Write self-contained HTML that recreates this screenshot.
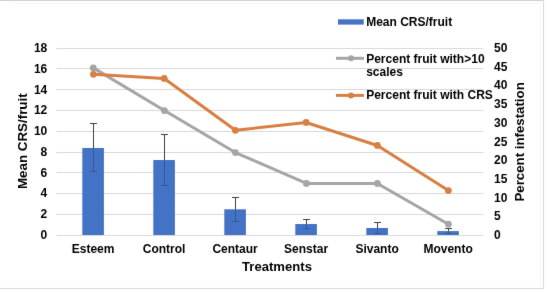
<!DOCTYPE html>
<html><head><meta charset="utf-8"><style>
html,body{margin:0;padding:0;background:#fff;width:548px;height:292px;overflow:hidden}
svg{display:block}
</style></head><body>
<svg width="548" height="292" viewBox="0 0 548 292">
<defs><filter id="b" x="0" y="0" width="548" height="292" filterUnits="userSpaceOnUse" color-interpolation-filters="sRGB"><feConvolveMatrix order="3" kernelMatrix="0.01 0.05 0.01 0.05 0.76 0.05 0.01 0.05 0.01" edgeMode="duplicate" preserveAlpha="false"/></filter></defs>
<g filter="url(#b)">
<rect width="548" height="292" fill="#fff"/>
<rect x="56.3" y="48" width="427.2" height="1" fill="#d9d9d9"/>
<rect x="56.3" y="68" width="427.2" height="1" fill="#d9d9d9"/>
<rect x="56.3" y="89" width="427.2" height="1" fill="#d9d9d9"/>
<rect x="56.3" y="110" width="427.2" height="1" fill="#d9d9d9"/>
<rect x="56.3" y="131" width="427.2" height="1" fill="#d9d9d9"/>
<rect x="56.3" y="152" width="427.2" height="1" fill="#d9d9d9"/>
<rect x="56.3" y="172" width="427.2" height="1" fill="#d9d9d9"/>
<rect x="56.3" y="193" width="427.2" height="1" fill="#d9d9d9"/>
<rect x="56.3" y="214" width="427.2" height="1" fill="#d9d9d9"/>
<rect x="56.3" y="235" width="427.2" height="1" fill="#d9d9d9"/>
<rect x="82.30" y="147.98" width="21.6" height="87.02" fill="#4472c4"/>
<rect x="153.30" y="160.03" width="21.6" height="74.97" fill="#4472c4"/>
<rect x="224.30" y="209.28" width="21.6" height="25.72" fill="#4472c4"/>
<rect x="295.30" y="224.03" width="21.6" height="10.97" fill="#4472c4"/>
<rect x="366.30" y="227.98" width="21.6" height="7.02" fill="#4472c4"/>
<rect x="437.30" y="231.09" width="21.6" height="3.91" fill="#4472c4"/>
<path d="M93.50 123.50V147.98M90.00 123.50H97.00" stroke="#404040" stroke-width="1" fill="none"/>
<path d="M93.50 147.98V171.50M90.00 171.50H97.00" stroke="#000" stroke-opacity="0.22" stroke-width="1" fill="none"/>
<path d="M164.50 134.50V160.03M161.00 134.50H168.00" stroke="#404040" stroke-width="1" fill="none"/>
<path d="M164.50 160.03V185.50M161.00 185.50H168.00" stroke="#000" stroke-opacity="0.22" stroke-width="1" fill="none"/>
<path d="M235.50 197.50V209.28M232.00 197.50H239.00" stroke="#404040" stroke-width="1" fill="none"/>
<path d="M235.50 209.28V221.50M232.00 221.50H239.00" stroke="#000" stroke-opacity="0.22" stroke-width="1" fill="none"/>
<path d="M306.50 219.50V224.03M303.00 219.50H310.00" stroke="#404040" stroke-width="1" fill="none"/>
<path d="M306.50 224.03V228.50M303.00 228.50H310.00" stroke="#000" stroke-opacity="0.22" stroke-width="1" fill="none"/>
<path d="M377.50 222.50V227.98M374.00 222.50H381.00" stroke="#404040" stroke-width="1" fill="none"/>
<path d="M377.50 227.98V233.50M374.00 233.50H381.00" stroke="#000" stroke-opacity="0.22" stroke-width="1" fill="none"/>
<path d="M448.50 228.50V231.09M445.00 228.50H452.00" stroke="#404040" stroke-width="1" fill="none"/>
<path d="M448.50 231.09V233.50M445.00 233.50H452.00" stroke="#000" stroke-opacity="0.22" stroke-width="1" fill="none"/>
<polyline points="93.25,67.90 164.40,110.55 235.40,152.55 306.40,183.45 377.40,183.45 448.40,224.20" fill="none" stroke="#a5a5a5" stroke-width="3" stroke-linejoin="round"/><circle cx="93.25" cy="67.90" r="3.4" fill="#a5a5a5"/><circle cx="164.40" cy="110.55" r="3.4" fill="#a5a5a5"/><circle cx="235.40" cy="152.55" r="3.4" fill="#a5a5a5"/><circle cx="306.40" cy="183.45" r="3.4" fill="#a5a5a5"/><circle cx="377.40" cy="183.45" r="3.4" fill="#a5a5a5"/><circle cx="448.40" cy="224.20" r="3.4" fill="#a5a5a5"/>
<polyline points="93.40,74.30 164.20,78.45 235.40,130.30 306.10,122.45 377.40,145.45 448.40,190.55" fill="none" stroke="#d87f42" stroke-width="3" stroke-linejoin="round"/><circle cx="93.40" cy="74.30" r="3.4" fill="#d87f42"/><circle cx="164.20" cy="78.45" r="3.4" fill="#d87f42"/><circle cx="235.40" cy="130.30" r="3.4" fill="#d87f42"/><circle cx="306.10" cy="122.45" r="3.4" fill="#d87f42"/><circle cx="377.40" cy="145.45" r="3.4" fill="#d87f42"/><circle cx="448.40" cy="190.55" r="3.4" fill="#d87f42"/>
<text x="47.3" y="238.95" text-anchor="end" font-size="12" font-family="Liberation Sans" font-weight="bold">0</text>
<text x="47.3" y="218.17" text-anchor="end" font-size="12" font-family="Liberation Sans" font-weight="bold">2</text>
<text x="47.3" y="197.39" text-anchor="end" font-size="12" font-family="Liberation Sans" font-weight="bold">4</text>
<text x="47.3" y="176.62" text-anchor="end" font-size="12" font-family="Liberation Sans" font-weight="bold">6</text>
<text x="47.3" y="155.84" text-anchor="end" font-size="12" font-family="Liberation Sans" font-weight="bold">8</text>
<text x="47.3" y="135.06" text-anchor="end" font-size="12" font-family="Liberation Sans" font-weight="bold">10</text>
<text x="47.3" y="114.28" text-anchor="end" font-size="12" font-family="Liberation Sans" font-weight="bold">12</text>
<text x="47.3" y="93.51" text-anchor="end" font-size="12" font-family="Liberation Sans" font-weight="bold">14</text>
<text x="47.3" y="72.73" text-anchor="end" font-size="12" font-family="Liberation Sans" font-weight="bold">16</text>
<text x="47.3" y="51.95" text-anchor="end" font-size="12" font-family="Liberation Sans" font-weight="bold">18</text>
<text x="494.1" y="239.05" font-size="12" font-family="Liberation Sans" font-weight="bold">0</text>
<text x="494.1" y="220.35" font-size="12" font-family="Liberation Sans" font-weight="bold">5</text>
<text x="494.1" y="201.65" font-size="12" font-family="Liberation Sans" font-weight="bold">10</text>
<text x="494.1" y="182.95" font-size="12" font-family="Liberation Sans" font-weight="bold">15</text>
<text x="494.1" y="164.25" font-size="12" font-family="Liberation Sans" font-weight="bold">20</text>
<text x="494.1" y="145.55" font-size="12" font-family="Liberation Sans" font-weight="bold">25</text>
<text x="494.1" y="126.85" font-size="12" font-family="Liberation Sans" font-weight="bold">30</text>
<text x="494.1" y="108.15" font-size="12" font-family="Liberation Sans" font-weight="bold">35</text>
<text x="494.1" y="89.45" font-size="12" font-family="Liberation Sans" font-weight="bold">40</text>
<text x="494.1" y="70.75" font-size="12" font-family="Liberation Sans" font-weight="bold">45</text>
<text x="494.1" y="52.05" font-size="12" font-family="Liberation Sans" font-weight="bold">50</text>
<text x="93.10" y="252.75" text-anchor="middle" font-size="12" font-family="Liberation Sans" font-weight="bold">Esteem</text>
<text x="164.10" y="252.75" text-anchor="middle" font-size="12" font-family="Liberation Sans" font-weight="bold">Control</text>
<text x="235.10" y="252.75" text-anchor="middle" font-size="12" font-family="Liberation Sans" font-weight="bold">Centaur</text>
<text x="306.10" y="252.75" text-anchor="middle" font-size="12" font-family="Liberation Sans" font-weight="bold">Senstar</text>
<text x="377.10" y="252.75" text-anchor="middle" font-size="12" font-family="Liberation Sans" font-weight="bold">Sivanto</text>
<text x="448.10" y="252.75" text-anchor="middle" font-size="12" font-family="Liberation Sans" font-weight="bold">Movento</text>
<text x="277" y="270.9" text-anchor="middle" font-size="13.1" font-family="Liberation Sans" font-weight="bold">Treatments</text>
<text transform="translate(27.0,141.2) rotate(-90)" text-anchor="middle" font-size="13.35" font-family="Liberation Sans" font-weight="bold">Mean CRS/fruit</text>
<text transform="translate(524,141.9) rotate(-90)" text-anchor="middle" font-size="13.25" font-family="Liberation Sans" font-weight="bold">Percent infestation</text>
<rect x="338" y="19.3" width="25.75" height="5.3" fill="#4472c4"/>
<text x="366.2" y="25.5" font-size="12" font-family="Liberation Sans" font-weight="bold">Mean CRS/fruit</text>
<line x1="336" x2="364" y1="58.3" y2="58.3" stroke="#a5a5a5" stroke-width="3"/><circle cx="351" cy="58.3" r="3" fill="#a5a5a5"/>
<text x="366.2" y="62.7" font-size="12" font-family="Liberation Sans" font-weight="bold">Percent fruit with&gt;10</text>
<text x="366.2" y="76" font-size="12" font-family="Liberation Sans" font-weight="bold">scales</text>
<line x1="336" x2="364" y1="95.4" y2="95.4" stroke="#d87f42" stroke-width="3"/><circle cx="351" cy="95.4" r="3" fill="#d87f42"/>
<text x="366.2" y="98.5" font-size="12" font-family="Liberation Sans" font-weight="bold">Percent fruit with CRS</text>
<rect x="0" y="0" width="544" height="1" fill="#d0d0d0"/>
<rect x="15" y="3" width="525" height="1" fill="#f5f5f5"/>
<rect x="540" y="3" width="1" height="285" fill="#f5f5f5"/>
<rect x="543" y="0" width="1" height="289" fill="#d9d9d9"/>
<rect x="0" y="288" width="544" height="1" fill="#d9d9d9"/>
</g>
</svg></body></html>
